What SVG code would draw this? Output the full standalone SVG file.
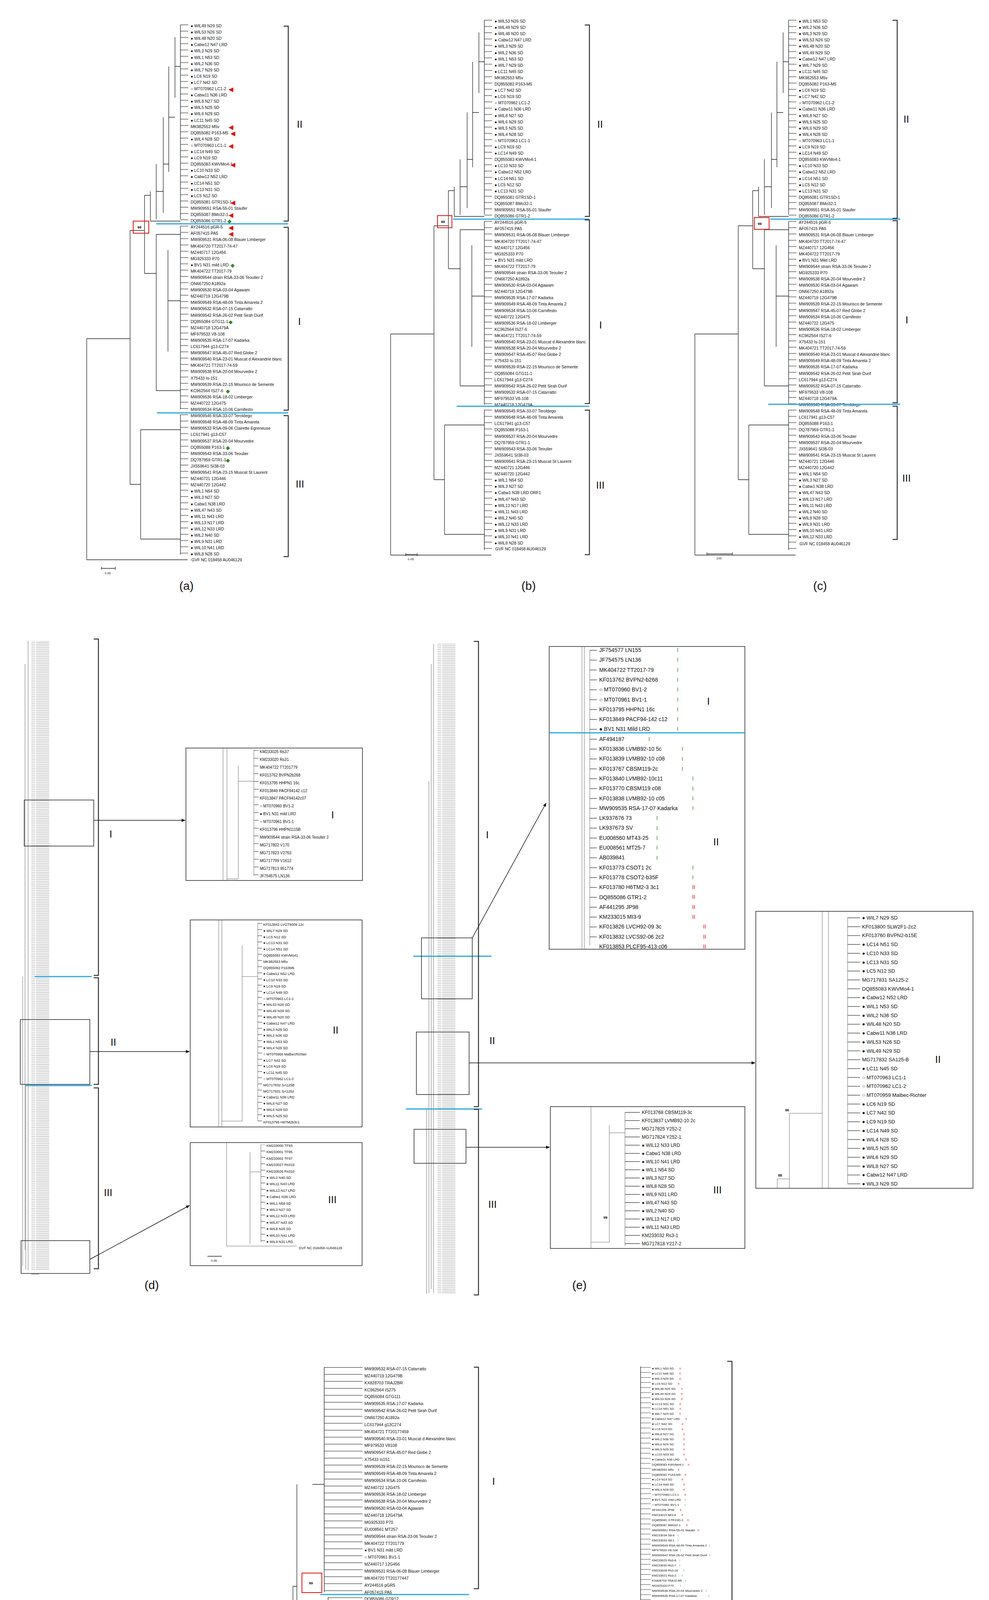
<svg xmlns="http://www.w3.org/2000/svg" xmlns:xlink="http://www.w3.org/1999/xlink" width="2532" height="5239" viewBox="0 0 2532 5239">
<style>
text{font-family:"Liberation Sans",Arial,sans-serif;fill:#111}
.l{font-size:10.5px}
.lg{font-size:8px}
.li{font-size:10px}
.ls{font-size:9px}
.le{font-size:14px}
.lr{font-size:13px}
.lt{font-size:12px}
.rn{font-size:26px}
.pl{font-size:30px}
.sb{font-size:8px}
.bs{font-size:9px;font-weight:bold}
.tr{fill:none;stroke:#222;stroke-width:1.3}
.trt{fill:none;stroke:#444;stroke-width:0.8}
.br{fill:none;stroke:#333;stroke-width:2.5}
.bl{stroke:#29a8e0;stroke-width:3}
.rb{fill:none;stroke:#e01010;stroke-width:2}
.bx{fill:none;stroke:#222;stroke-width:1.5}
.ar{stroke:#111;stroke-width:1.5;marker-end:url(#ah)}
.red{fill:#e01010}
.grn{fill:#3a8a2a}
.blu{fill:#3b8ee0}
</style>
<defs>
<marker id="ah" markerWidth="10" markerHeight="8" refX="9" refY="4" orient="auto" markerUnits="userSpaceOnUse"><path d="M0,0L10,4L0,8z" fill="#111"/></marker>
<pattern id="stA" patternUnits="userSpaceOnUse" width="2000" height="16.1" y="63"><rect width="2000" height="1.1" fill="#222"/></pattern>
<pattern id="stF" patternUnits="userSpaceOnUse" width="2000" height="17.86" y="3500"><rect width="2000" height="1.1" fill="#222"/></pattern>
<pattern id="stG" patternUnits="userSpaceOnUse" width="2000" height="12.93" y="3500"><rect width="2000" height="0.9" fill="#333"/></pattern>
<pattern id="stD1" patternUnits="userSpaceOnUse" width="2000" height="19.9" y="1920.5"><rect width="2000" height="1" fill="#222"/></pattern>
<pattern id="stD2" patternUnits="userSpaceOnUse" width="2000" height="15.8" y="2363.5"><rect width="2000" height="1" fill="#222"/></pattern>
<pattern id="stD3" patternUnits="userSpaceOnUse" width="2000" height="16.4" y="2929.5"><rect width="2000" height="1" fill="#222"/></pattern>
<pattern id="stE1" patternUnits="userSpaceOnUse" width="2000" height="25.3" y="1664"><rect width="2000" height="1.2" fill="#222"/></pattern>
<pattern id="stE2" patternUnits="userSpaceOnUse" width="2000" height="22.7" y="2349"><rect width="2000" height="1.2" fill="#222"/></pattern>
<pattern id="stE3" patternUnits="userSpaceOnUse" width="2000" height="21" y="2847"><rect width="2000" height="1.2" fill="#222"/></pattern>
<pattern id="tiny" patternUnits="userSpaceOnUse" width="80" height="4.6"><rect x="0" y="1.8" width="10" height="0.6" fill="#555"/><rect x="12" y="1" width="34" height="2" fill="#c4c4c4"/></pattern>
<g id="treeA">
<rect x="462" y="60" width="20" height="1362" fill="url(#stA)"/>
<path class="tr" d="M462,63V561 M462,579V1048 M462,1061V1420 M448,95V250 M448,170H462 M432,170V440 M432,300H448 M418,300V545 M418,420H432 M400,420V562 M400,490H418 M385,490V566 M385,566H462 M370,500V700 M370,500H385 M370,700H400 M400,600V1000 M400,600H462 M400,1000H462 M430,640V900 M430,770H462 M333,590V1240 M333,590H370 M333,1240H360 M360,1100V1380 M360,1100H462 M360,1380H462 M222,867V1433 M222,867H333 M222,1433H480"/>
</g>
</defs>

<!-- ================= PANEL A ================= -->
<g id="panel-a">
<use xlink:href="#treeA"/>
<text class="l" x="488" y="70"><tspan x="488">● WIL49 N29 SD</tspan><tspan x="488" dy="16.1">● WIL53 N26 SD</tspan><tspan x="488" dy="16.1">● WIL48 N20 SD</tspan><tspan x="488" dy="16.1">● Cabw12 N47 LRD</tspan><tspan x="488" dy="16.1">● WIL3 N29 SD</tspan><tspan x="488" dy="16.1">● WIL1 N53 SD</tspan><tspan x="488" dy="16.1">● WIL2 N36 SD</tspan><tspan x="488" dy="16.1">● WIL7 N29 SD</tspan><tspan x="488" dy="16.1">● LC6 N19 SD</tspan><tspan x="488" dy="16.1">● LC7 N42 SD</tspan><tspan x="488" dy="16.1">○ MT070962 LC1-2</tspan><tspan x="488" dy="16.1">● Cabw11 N36 LRD</tspan><tspan x="488" dy="16.1">● WIL8 N27 SD</tspan><tspan x="488" dy="16.1">● WIL5 N25 SD</tspan><tspan x="488" dy="16.1">● WIL6 N29 SD</tspan><tspan x="488" dy="16.1">● LC11 N45 SD</tspan><tspan x="488" dy="16.1">MK982553 M5v</tspan><tspan x="488" dy="16.1">DQ855082 P163-M5</tspan><tspan x="488" dy="16.1">● WIL4 N28 SD</tspan><tspan x="488" dy="16.1">○ MT070963 LC1-1</tspan><tspan x="488" dy="16.1">● LC14 N49 SD</tspan><tspan x="488" dy="16.1">● LC9 N19 SD</tspan><tspan x="488" dy="16.1">DQ855083 KWVMo4-1</tspan><tspan x="488" dy="16.1">● LC10 N33 SD</tspan><tspan x="488" dy="16.1">● Cabw12 N52 LRD</tspan><tspan x="488" dy="16.1">● LC14 N51 SD</tspan><tspan x="488" dy="16.1">● LC13 N31 SD</tspan><tspan x="488" dy="16.1">● LC5 N12 SD</tspan><tspan x="488" dy="16.1">DQ855081 GTR1SD-1</tspan><tspan x="488" dy="16.1">MW909551 RSA-55-01 Staufer</tspan><tspan x="488" dy="16.1">DQ855087 BMo32-1</tspan><tspan x="488" dy="16.1">DQ855086 GTR1-2</tspan><tspan x="488" dy="16.1">AY244516 pGR-5</tspan><tspan x="488" dy="16.1">AF057415 PA5</tspan><tspan x="488" dy="16.1">MW909531 RSA-06-08 Blauer Limberger</tspan><tspan x="488" dy="16.1">MK404720 TT2017-74-47</tspan><tspan x="488" dy="16.1">MZ440717 12G456</tspan><tspan x="488" dy="16.1">MG925333 P70</tspan><tspan x="488" dy="16.1">● BV1 N31 mild LRD</tspan><tspan x="488" dy="16.1">MK404722 TT2017-79</tspan><tspan x="488" dy="16.1">MW909544 strain RSA-33-06 Teoulier 2</tspan><tspan x="488" dy="16.1">ON667250 A1892a</tspan><tspan x="488" dy="16.1">MW909530 RSA-03-04 Agawam</tspan><tspan x="488" dy="16.1">MZ440719 12G479B</tspan><tspan x="488" dy="16.1">MW909549 RSA-48-09 Tinta Amarela 2</tspan><tspan x="488" dy="16.1">MW909532 RSA-07-15 Catarratto</tspan><tspan x="488" dy="16.1">MW909542 RSA-26-02 Petit Sirah Durif</tspan><tspan x="488" dy="16.1">DQ855084 GTG11-1</tspan><tspan x="488" dy="16.1">MZ440718 12G479A</tspan><tspan x="488" dy="16.1">MF979533 V8-108</tspan><tspan x="488" dy="16.1">MW909535 RSA-17-07 Kadarka</tspan><tspan x="488" dy="16.1">LC617944 g13-C274</tspan><tspan x="488" dy="16.1">MW909547 RSA-45-07 Red Globe 2</tspan><tspan x="488" dy="16.1">MW909540 RSA-23-01 Muscat d Alexandrie blanc</tspan><tspan x="488" dy="16.1">MK404721 TT2017-74-59</tspan><tspan x="488" dy="16.1">MW909538 RSA-20-04 Mourvedre 2</tspan><tspan x="488" dy="16.1">X75433 Is-151</tspan><tspan x="488" dy="16.1">MW909539 RSA-22-15 Mourisco de Semente</tspan><tspan x="488" dy="16.1">KC962564 IS27-6</tspan><tspan x="488" dy="16.1">MW909536 RSA-18-02 Limberger</tspan><tspan x="488" dy="16.1">MZ440722 12G475</tspan><tspan x="488" dy="16.1">MW909534 RSA-10-06 Carnifesto</tspan><tspan x="488" dy="16.1">MW909545 RSA-33-07 Teroldego</tspan><tspan x="488" dy="16.1">MW909548 RSA-48-09 Tinta Amarela</tspan><tspan x="488" dy="16.1">MW909533 RSA-09-06 Clairette Egreneuse</tspan><tspan x="488" dy="16.1">LC617941 g13-C57</tspan><tspan x="488" dy="16.1">MW909537 RSA-20-04 Mourvedre</tspan><tspan x="488" dy="16.1">DQ855088 P163-1</tspan><tspan x="488" dy="16.1">MW909543 RSA-33-06 Teoulier</tspan><tspan x="488" dy="16.1">DQ787959 GTR1-1</tspan><tspan x="488" dy="16.1">JX559641 SI38-03</tspan><tspan x="488" dy="16.1">MW909541 RSA-23-15 Muscat St Laurent</tspan><tspan x="488" dy="16.1">MZ440721 12G446</tspan><tspan x="488" dy="16.1">MZ440720 12G442</tspan><tspan x="488" dy="16.1">● WIL1 N54 SD</tspan><tspan x="488" dy="16.1">● WIL3 N27 SD</tspan><tspan x="488" dy="16.1">● Cabw1 N38 LRD</tspan><tspan x="488" dy="16.1">● WIL47 N43 SD</tspan><tspan x="488" dy="16.1">● WIL11 N43 LRD</tspan><tspan x="488" dy="16.1">● WIL13 N17 LRD</tspan><tspan x="488" dy="16.1">● WIL12 N33 LRD</tspan><tspan x="488" dy="16.1">● WIL2 N40 SD</tspan><tspan x="488" dy="16.1">● WIL9 N31 LRD</tspan><tspan x="488" dy="16.1">● WIL10 N41 LRD</tspan><tspan x="488" dy="16.1">● WIL8 N28 SD</tspan></text>
<text class="l" x="490" y="1437">GVF NC 018458 AU046129</text>
<text x="585" font-size="16" class="red"><tspan x="585" y="234">◀</tspan><tspan x="585" y="331">◀</tspan><tspan x="590" y="347">◀</tspan><tspan x="585" y="379">◀</tspan><tspan x="590" y="427">◀</tspan><tspan x="590" y="524">◀</tspan><tspan x="585" y="556">◀</tspan><tspan x="585" y="588">◀</tspan><tspan x="585" y="604">◀</tspan></text>
<text x="585" font-size="14" class="grn"><tspan x="582" y="571">◆</tspan><tspan x="590" y="684">◆</tspan><tspan x="585" y="829">◆</tspan><tspan x="578" y="1006">◆</tspan><tspan x="578" y="1151">◆</tspan><tspan x="578" y="1183">◆</tspan></text>
<rect class="rb" x="341" y="566" width="40" height="31"/>
<text class="bs" x="352" y="585">99</text>
<line class="bl" x1="400" y1="573" x2="738" y2="573"/>
<line class="bl" x1="402" y1="1057" x2="738" y2="1057"/>
<path class="br" d="M726,67H738V566H726 M726,582H738V1050H726 M726,1064H738V1425H726"/>
<text class="rn" x="760" y="327">II</text>
<text class="rn" x="763" y="832">I</text>
<text class="rn" x="757" y="1248">III</text>
<path class="tr" d="M260,1455H295 M260,1451V1459 M295,1451V1459"/>
<text class="sb" x="268" y="1470">0.05</text>
<text class="pl" x="459" y="1510">(a)</text>
</g>

<!-- ================= PANEL B ================= -->
<g id="panel-b">
<use xlink:href="#treeA" transform="translate(778,-12)"/>
<text class="l" x="1266" y="58"><tspan x="1266">● WIL53 N26 SD</tspan><tspan x="1266" dy="16.1">● WIL49 N29 SD</tspan><tspan x="1266" dy="16.1">● WIL48 N20 SD</tspan><tspan x="1266" dy="16.1">● Cabw12 N47 LRD</tspan><tspan x="1266" dy="16.1">● WIL3 N29 SD</tspan><tspan x="1266" dy="16.1">● WIL2 N36 SD</tspan><tspan x="1266" dy="16.1">● WIL1 N53 SD</tspan><tspan x="1266" dy="16.1">● WIL7 N29 SD</tspan><tspan x="1266" dy="16.1">● LC11 N45 SD</tspan><tspan x="1266" dy="16.1">MK982553 M5v</tspan><tspan x="1266" dy="16.1">DQ855082 P163-M5</tspan><tspan x="1266" dy="16.1">● LC7 N42 SD</tspan><tspan x="1266" dy="16.1">● LC6 N19 SD</tspan><tspan x="1266" dy="16.1">○ MT070962 LC1-2</tspan><tspan x="1266" dy="16.1">● Cabw11 N36 LRD</tspan><tspan x="1266" dy="16.1">● WIL8 N27 SD</tspan><tspan x="1266" dy="16.1">● WIL6 N29 SD</tspan><tspan x="1266" dy="16.1">● WIL5 N25 SD</tspan><tspan x="1266" dy="16.1">● WIL4 N28 SD</tspan><tspan x="1266" dy="16.1">○ MT070963 LC1-1</tspan><tspan x="1266" dy="16.1">● LC9 N19 SD</tspan><tspan x="1266" dy="16.1">● LC14 N49 SD</tspan><tspan x="1266" dy="16.1">DQ855083 KWVMo4-1</tspan><tspan x="1266" dy="16.1">● LC10 N33 SD</tspan><tspan x="1266" dy="16.1">● Cabw12 N52 LRD</tspan><tspan x="1266" dy="16.1">● LC14 N51 SD</tspan><tspan x="1266" dy="16.1">● LC5 N12 SD</tspan><tspan x="1266" dy="16.1">● LC13 N31 SD</tspan><tspan x="1266" dy="16.1">DQ855081 GTR1SD-1</tspan><tspan x="1266" dy="16.1">DQ855087 BMo32-1</tspan><tspan x="1266" dy="16.1">MW909551 RSA-55-01 Staufer</tspan><tspan x="1266" dy="16.1">DQ855086 GTR1-2</tspan><tspan x="1266" dy="16.1">AY244516 pGR-5</tspan><tspan x="1266" dy="16.1">AF057415 PA5</tspan><tspan x="1266" dy="16.1">MW909531 RSA-06-08 Blauer Limberger</tspan><tspan x="1266" dy="16.1">MK404720 TT2017-74-47</tspan><tspan x="1266" dy="16.1">MZ440717 12G456</tspan><tspan x="1266" dy="16.1">MG925333 P70</tspan><tspan x="1266" dy="16.1">● BV1 N31 mild LRD</tspan><tspan x="1266" dy="16.1">MK404722 TT2017-79</tspan><tspan x="1266" dy="16.1">MW909544 strain RSA-33-06 Teoulier 2</tspan><tspan x="1266" dy="16.1">ON667250 A1892a</tspan><tspan x="1266" dy="16.1">MW909530 RSA-03-04 Agawam</tspan><tspan x="1266" dy="16.1">MZ440719 12G479B</tspan><tspan x="1266" dy="16.1">MW909535 RSA-17-07 Kadarka</tspan><tspan x="1266" dy="16.1">MW909549 RSA-48-09 Tinta Amarela 2</tspan><tspan x="1266" dy="16.1">MW909534 RSA-10-06 Carnifesto</tspan><tspan x="1266" dy="16.1">MZ440722 12G475</tspan><tspan x="1266" dy="16.1">MW909536 RSA-18-02 Limberger</tspan><tspan x="1266" dy="16.1">KC962564 IS27-6</tspan><tspan x="1266" dy="16.1">MK404721 TT2017-74-59</tspan><tspan x="1266" dy="16.1">MW909540 RSA-23-01 Muscat d Alexandrie blanc</tspan><tspan x="1266" dy="16.1">MW909538 RSA-20-04 Mourvedre 2</tspan><tspan x="1266" dy="16.1">MW909547 RSA-45-07 Red Globe 2</tspan><tspan x="1266" dy="16.1">X75433 Is-151</tspan><tspan x="1266" dy="16.1">MW909539 RSA-22-15 Mourisco de Semente</tspan><tspan x="1266" dy="16.1">DQ855084 GTG11-1</tspan><tspan x="1266" dy="16.1">LC617944 g13-C274</tspan><tspan x="1266" dy="16.1">MW909542 RSA-26-02 Petit Sirah Durif</tspan><tspan x="1266" dy="16.1">MW909532 RSA-07-15 Catarratto</tspan><tspan x="1266" dy="16.1">MF979533 V8-108</tspan><tspan x="1266" dy="16.1">MZ440718 12G479A</tspan><tspan x="1266" dy="16.1">MW909545 RSA-33-07 Teroldego</tspan><tspan x="1266" dy="16.1">MW909548 RSA-48-09 Tinta Amarela</tspan><tspan x="1266" dy="16.1">LC617941 g13-C57</tspan><tspan x="1266" dy="16.1">DQ855088 P163-1</tspan><tspan x="1266" dy="16.1">MW909537 RSA-20-04 Mourvedre</tspan><tspan x="1266" dy="16.1">DQ787959 GTR1-1</tspan><tspan x="1266" dy="16.1">MW909543 RSA-33-06 Teoulier</tspan><tspan x="1266" dy="16.1">JX559641 SI38-03</tspan><tspan x="1266" dy="16.1">MW909541 RSA-23-15 Muscat St Laurent</tspan><tspan x="1266" dy="16.1">MZ440721 12G446</tspan><tspan x="1266" dy="16.1">MZ440720 12G442</tspan><tspan x="1266" dy="16.1">● WIL1 N54 SD</tspan><tspan x="1266" dy="16.1">● WIL3 N27 SD</tspan><tspan x="1266" dy="16.1">● Cabw1 N38 LRD ORF1</tspan><tspan x="1266" dy="16.1">● WIL47 N43 SD</tspan><tspan x="1266" dy="16.1">● WIL13 N17 LRD</tspan><tspan x="1266" dy="16.1">● WIL11 N43 LRD</tspan><tspan x="1266" dy="16.1">● WIL2 N40 SD</tspan><tspan x="1266" dy="16.1">● WIL12 N33 LRD</tspan><tspan x="1266" dy="16.1">● WIL9 N31 LRD</tspan><tspan x="1266" dy="16.1">● WIL10 N41 LRD</tspan><tspan x="1266" dy="16.1">● WIL8 N28 SD</tspan></text>
<text class="l" x="1268" y="1409">GVF NC 018458 AU046129</text>
<rect class="rb" x="1120" y="552" width="37" height="31"/>
<text class="bs" x="1129" y="571">99</text>
<line class="bl" x1="1160" y1="561" x2="1509" y2="561"/>
<line class="bl" x1="1169" y1="1040" x2="1509" y2="1040"/>
<path class="br" d="M1497,64H1509V554H1497 M1497,563H1509V1033H1497 M1497,1050H1509V1420H1497"/>
<text class="rn" x="1529" y="327">II</text>
<text class="rn" x="1534" y="841">I</text>
<text class="rn" x="1526" y="1251">III</text>
<path class="tr" d="M1039,1420H1068 M1039,1416V1424 M1068,1416V1424"/>
<text class="sb" x="1044" y="1434">0.05</text>
<text class="pl" x="1335" y="1510">(b)</text>
</g>

<!-- ================= PANEL C ================= -->
<g id="panel-c">
<use xlink:href="#treeA" transform="translate(1557,-12)"/>
<text class="l" x="2045" y="58"><tspan x="2045">● WIL1 N53 SD</tspan><tspan x="2045" dy="16.1">● WIL2 N36 SD</tspan><tspan x="2045" dy="16.1">● WIL3 N29 SD</tspan><tspan x="2045" dy="16.1">● WIL53 N26 SD</tspan><tspan x="2045" dy="16.1">● WIL48 N20 SD</tspan><tspan x="2045" dy="16.1">● WIL49 N29 SD</tspan><tspan x="2045" dy="16.1">● Cabw12 N47 LRD</tspan><tspan x="2045" dy="16.1">● WIL7 N29 SD</tspan><tspan x="2045" dy="16.1">● LC11 N45 SD</tspan><tspan x="2045" dy="16.1">MK982553 M5v</tspan><tspan x="2045" dy="16.1">DQ855082 P163-M5</tspan><tspan x="2045" dy="16.1">● LC6 N19 SD</tspan><tspan x="2045" dy="16.1">● LC7 N42 SD</tspan><tspan x="2045" dy="16.1">○ MT070962 LC1-2</tspan><tspan x="2045" dy="16.1">● Cabw11 N36 LRD</tspan><tspan x="2045" dy="16.1">● WIL8 N27 SD</tspan><tspan x="2045" dy="16.1">● WIL5 N25 SD</tspan><tspan x="2045" dy="16.1">● WIL6 N29 SD</tspan><tspan x="2045" dy="16.1">● WIL4 N28 SD</tspan><tspan x="2045" dy="16.1">○ MT070963 LC1-1</tspan><tspan x="2045" dy="16.1">● LC9 N19 SD</tspan><tspan x="2045" dy="16.1">● LC14 N49 SD</tspan><tspan x="2045" dy="16.1">DQ855083 KWVMo4-1</tspan><tspan x="2045" dy="16.1">● LC10 N33 SD</tspan><tspan x="2045" dy="16.1">● Cabw12 N52 LRD</tspan><tspan x="2045" dy="16.1">● LC14 N51 SD</tspan><tspan x="2045" dy="16.1">● LC5 N12 SD</tspan><tspan x="2045" dy="16.1">● LC13 N31 SD</tspan><tspan x="2045" dy="16.1">DQ855081 GTR1SD-1</tspan><tspan x="2045" dy="16.1">DQ855087 BMo32-1</tspan><tspan x="2045" dy="16.1">MW909551 RSA-55-01 Staufer</tspan><tspan x="2045" dy="16.1">DQ855086 GTR1-2</tspan><tspan x="2045" dy="16.1">AY244516 pGR-5</tspan><tspan x="2045" dy="16.1">AF057415 PA5</tspan><tspan x="2045" dy="16.1">MW909531 RSA-06-08 Blauer Limberger</tspan><tspan x="2045" dy="16.1">MK404720 TT2017-74-47</tspan><tspan x="2045" dy="16.1">MZ440717 12G456</tspan><tspan x="2045" dy="16.1">MK404722 TT2017-79</tspan><tspan x="2045" dy="16.1">● BV1 N31 Mild LRD</tspan><tspan x="2045" dy="16.1">MW909544 strain RSA-33-06 Teoulier 2</tspan><tspan x="2045" dy="16.1">MG925333 P70</tspan><tspan x="2045" dy="16.1">MW909538 RSA-20-04 Mourvedre 2</tspan><tspan x="2045" dy="16.1">MW909530 RSA-03-04 Agawam</tspan><tspan x="2045" dy="16.1">ON667250 A1892a</tspan><tspan x="2045" dy="16.1">MZ440719 12G479B</tspan><tspan x="2045" dy="16.1">MW909539 RSA-22-15 Mourisco de Semente</tspan><tspan x="2045" dy="16.1">MW909547 RSA-45-07 Red Globe 2</tspan><tspan x="2045" dy="16.1">MW909534 RSA-10-06 Carnifesto</tspan><tspan x="2045" dy="16.1">MZ440722 12G475</tspan><tspan x="2045" dy="16.1">MW909536 RSA-18-02 Limberger</tspan><tspan x="2045" dy="16.1">KC962564 IS27-6</tspan><tspan x="2045" dy="16.1">X75433 Is-151</tspan><tspan x="2045" dy="16.1">MK404721 TT2017-74-59</tspan><tspan x="2045" dy="16.1">MW909540 RSA-23-01 Muscat d Alexandrie blanc</tspan><tspan x="2045" dy="16.1">MW909549 RSA-48-09 Tinta Amarela 2</tspan><tspan x="2045" dy="16.1">MW909535 RSA-17-07 Kadarka</tspan><tspan x="2045" dy="16.1">MW909542 RSA-26-02 Petit Sirah Durif</tspan><tspan x="2045" dy="16.1">LC617944 g13-C274</tspan><tspan x="2045" dy="16.1">MW909532 RSA-07-15 Catarratto</tspan><tspan x="2045" dy="16.1">MF979533 V8-108</tspan><tspan x="2045" dy="16.1">MZ440718 12G479A</tspan><tspan x="2045" dy="16.1">MW909545 RSA-33-07 Teroldego</tspan><tspan x="2045" dy="16.1">MW909548 RSA-48-09 Tinta Amarela</tspan><tspan x="2045" dy="16.1">LC617941 g13-C57</tspan><tspan x="2045" dy="16.1">DQ855088 P163-1</tspan><tspan x="2045" dy="16.1">DQ787959 GTR1-1</tspan><tspan x="2045" dy="16.1">MW909543 RSA-33-06 Teoulier</tspan><tspan x="2045" dy="16.1">MW909537 RSA-20-04 Mourvedre</tspan><tspan x="2045" dy="16.1">JX559641 SI38-03</tspan><tspan x="2045" dy="16.1">MW909541 RSA-23-15 Muscat St Laurent</tspan><tspan x="2045" dy="16.1">MZ440721 12G446</tspan><tspan x="2045" dy="16.1">MZ440720 12G442</tspan><tspan x="2045" dy="16.1">● WIL1 N54 SD</tspan><tspan x="2045" dy="16.1">● WIL3 N27 SD</tspan><tspan x="2045" dy="16.1">● Cabw1 N38 LRD</tspan><tspan x="2045" dy="16.1">● WIL47 N43 SD</tspan><tspan x="2045" dy="16.1">● WIL13 N17 LRD</tspan><tspan x="2045" dy="16.1">● WIL11 N43 LRD</tspan><tspan x="2045" dy="16.1">● WIL2 N40 SD</tspan><tspan x="2045" dy="16.1">● WIL8 N28 SD</tspan><tspan x="2045" dy="16.1">● WIL9 N31 LRD</tspan><tspan x="2045" dy="16.1">● WIL10 N41 LRD</tspan><tspan x="2045" dy="16.1">● WIL12 N33 LRD</tspan></text>
<text class="l" x="2047" y="1396">GVF NC 018458 AU046129</text>
<rect class="rb" x="1931" y="557" width="38" height="30"/>
<text class="bs" x="1940" y="576">99</text>
<line class="bl" x1="1972" y1="561" x2="2305" y2="561"/>
<line class="bl" x1="1967" y1="1035" x2="2305" y2="1035"/>
<path class="br" d="M2285,52H2297V559H2285 M2285,565H2297V1031H2285 M2285,1040H2297V1381H2285"/>
<text class="rn" x="2313" y="314">II</text>
<text class="rn" x="2318" y="828">I</text>
<text class="rn" x="2310" y="1233">III</text>
<path class="tr" d="M1810,1418H1875 M1810,1414V1422 M1875,1414V1422"/>
<text class="sb" x="1834" y="1432">100</text>
<text class="pl" x="2082" y="1510">(c)</text>
</g>

<!-- ================= PANEL D ================= -->
<g id="panel-d">
<rect x="72" y="1640" width="80" height="1612" fill="url(#tiny)"/>
<path class="trt" d="M72,1640V3252 M64,1700V3200 M58,2500V3240 M66,2780V3250 M80,3262H100"/>
<line class="bl" x1="89" y1="2500" x2="235" y2="2500"/>
<line class="bl" x1="65" y1="2779" x2="235" y2="2779"/>
<path class="br" d="M240,1636H252V2497H240 M240,2503H252V2776H240 M240,2785H252V3248H240"/>
<text class="rn" x="280" y="2144">I</text>
<text class="rn" x="283" y="2677">II</text>
<text class="rn" x="266" y="3062">III</text>
<rect class="bx" x="62" y="2048" width="178" height="118"/>
<rect class="bx" x="52" y="2610" width="178" height="166"/>
<rect class="bx" x="54" y="3176" width="176" height="84"/>
<line class="ar" x1="240" y1="2100" x2="474" y2="2100"/>
<line class="ar" x1="230" y1="2692" x2="485" y2="2692"/>
<line class="ar" x1="230" y1="3224" x2="485" y2="3086"/>
<!-- inset I -->
<rect class="bx" x="476" y="1915" width="452" height="339"/>
<path class="trt" d="M571,1915V2254 M581,1915V2254 M581,2250H610 M610,1960V2250 M610,2000H650 M650,1920V2242"/>
<rect x="650" y="1916" width="12" height="330" fill="url(#stD1)"/>
<text class="li" x="665" y="1928"><tspan x="665">KM233025 Rs37</tspan><tspan x="665" dy="19.9">KM233020 Rs31</tspan><tspan x="665" dy="19.9">MK404722 TT201779</tspan><tspan x="665" dy="19.9">KF013762 BVPN2b268</tspan><tspan x="665" dy="19.9">KF013795 HHPN1 16c</tspan><tspan x="665" dy="19.9">KF013849 PACF94142 c12</tspan><tspan x="665" dy="19.9">KF013847 PACF94142c07</tspan><tspan x="665" dy="19.9">○ MT070960 BV1-2</tspan><tspan x="665" dy="19.9">● BV1 N31 mild LRD</tspan><tspan x="665" dy="19.9">○ MT070961 BV1-1</tspan><tspan x="665" dy="19.9">KF013796 HHPN1115B</tspan><tspan x="665" dy="19.9">MW909544 strain RSA-33-06 Teoulier 2</tspan><tspan x="665" dy="19.9">MG717802 V170</tspan><tspan x="665" dy="19.9">MG717823 V2763</tspan><tspan x="665" dy="19.9">MG717799 V1612</tspan><tspan x="665" dy="19.9">MG717813 951774</tspan><tspan x="665" dy="19.9">JF754575 LN136</tspan></text>
<text class="rn" x="848" y="2095">I</text>
<!-- inset II -->
<rect class="bx" x="487" y="2355" width="440" height="530"/>
<path class="trt" d="M560,2355V2885 M568,2355V2885 M568,2870H620 M620,2420V2870 M620,2500H660 M660,2363V2870"/>
<rect x="660" y="2362" width="11" height="512" fill="url(#stD2)"/>
<text class="ls" x="674" y="2370"><tspan x="674">KF013842 LVGT9009 12c</tspan><tspan x="674" dy="15.8">● WIL7 N29 SD</tspan><tspan x="674" dy="15.8">● LC5 N12 SD</tspan><tspan x="674" dy="15.8">● LC13 N31 SD</tspan><tspan x="674" dy="15.8">● LC14 N51 SD</tspan><tspan x="674" dy="15.8">DQ855083 KWVMo41</tspan><tspan x="674" dy="15.8">MK982553 M5v</tspan><tspan x="674" dy="15.8">DQ855082 P163M5</tspan><tspan x="674" dy="15.8">● Cabw12 N52 LRD</tspan><tspan x="674" dy="15.8">● LC10 N33 SD</tspan><tspan x="674" dy="15.8">● LC9 N19 SD</tspan><tspan x="674" dy="15.8">● LC14 N49 SD</tspan><tspan x="674" dy="15.8">○ MT070963 LC1-1</tspan><tspan x="674" dy="15.8">● WIL53 N26 SD</tspan><tspan x="674" dy="15.8">● WIL49 N29 SD</tspan><tspan x="674" dy="15.8">● WIL48 N20 SD</tspan><tspan x="674" dy="15.8">● Cabw12 N47 LRD</tspan><tspan x="674" dy="15.8">● WIL3 N29 SD</tspan><tspan x="674" dy="15.8">● WIL2 N36 SD</tspan><tspan x="674" dy="15.8">● WIL1 N53 SD</tspan><tspan x="674" dy="15.8">● WIL4 N28 SD</tspan><tspan x="674" dy="15.8">○ MT070959 MalbecRichter</tspan><tspan x="674" dy="15.8">● LC7 N42 SD</tspan><tspan x="674" dy="15.8">● LC6 N19 SD</tspan><tspan x="674" dy="15.8">● LC11 N45 SD</tspan><tspan x="674" dy="15.8">○ MT070962 LC1-2</tspan><tspan x="674" dy="15.8">MG717832 SA125B</tspan><tspan x="674" dy="15.8">MG717831 SA1252</tspan><tspan x="674" dy="15.8">● Cabw11 N36 LRD</tspan><tspan x="674" dy="15.8">● WIL8 N27 SD</tspan><tspan x="674" dy="15.8">● WIL6 N29 SD</tspan><tspan x="674" dy="15.8">● WIL5 N25 SD</tspan><tspan x="674" dy="15.8">KF013795 H6TM2b3c1</tspan></text>
<text class="rn" x="852" y="2646">II</text>
<!-- inset III -->
<rect class="bx" x="487" y="2925" width="440" height="315"/>
<path class="trt" d="M580,2925V3190 M580,3190H760 M640,2950V3185 M640,3000H668 M668,2930V3180"/>
<rect x="668" y="2930" width="11" height="250" fill="url(#stD3)"/>
<text class="ls" x="682" y="2936"><tspan x="682">KM233000 TF93</tspan><tspan x="682" dy="16.4">KM233001 TF95</tspan><tspan x="682" dy="16.4">KM233002 TF97</tspan><tspan x="682" dy="16.4">KM233027 Rs315</tspan><tspan x="682" dy="16.4">KM233026 Rs310</tspan><tspan x="682" dy="16.4">● WIL2 N40 SD</tspan><tspan x="682" dy="16.4">● WIL11 N43 LRD</tspan><tspan x="682" dy="16.4">● WIL13 N17 LRD</tspan><tspan x="682" dy="16.4">● Cabw1 N38 LRD</tspan><tspan x="682" dy="16.4">● WIL1 N58 SD</tspan><tspan x="682" dy="16.4">● WIL3 N27 SD</tspan><tspan x="682" dy="16.4">● WIL12 N33 LRD</tspan><tspan x="682" dy="16.4">● WIL47 N43 SD</tspan><tspan x="682" dy="16.4">● WIL8 N28 SD</tspan><tspan x="682" dy="16.4">● WIL10 N41 LRD</tspan><tspan x="682" dy="16.4">● WIL9 N31 LRD</tspan></text>
<text class="ls" x="765" y="3198">GVF NC 018458 AU046129</text>
<text class="rn" x="840" y="3080">III</text>
<path class="tr" d="M531,3216H568"/>
<text class="sb" x="540" y="3230">0.05</text>
<text class="pl" x="370" y="3300">(d)</text>
</g>

<!-- ================= PANEL E ================= -->
<g id="panel-e">
<rect x="1110" y="1648" width="72" height="1665" fill="url(#tiny)"/>
<path class="trt" d="M1110,1648V3310 M1104,1700V3300 M1098,2000V3310 M1092,2840V3312"/>
<line class="bl" x1="1058" y1="2448" x2="1258" y2="2448"/>
<line class="bl" x1="1039" y1="2839" x2="1234" y2="2839"/>
<path class="br" d="M1213,1642H1225V2833H1213 M1213,2840H1225V3315H1213"/>
<text class="rn" x="1244" y="2146">I</text>
<text class="rn" x="1253" y="2673">II</text>
<text class="rn" x="1250" y="3092">III</text>
<rect class="bx" x="1079" y="2401" width="130" height="156"/>
<rect class="bx" x="1066" y="2642" width="135" height="160"/>
<rect class="bx" x="1060" y="2891" width="133" height="87"/>
<line class="ar" x1="1209" y1="2401" x2="1398" y2="2056"/>
<line class="ar" x1="1201" y1="2721" x2="1933" y2="2721"/>
<line class="ar" x1="1193" y1="2937" x2="1407" y2="2937"/>
<!-- inset I/II -->
<rect class="bx" x="1406" y="1655" width="501" height="775"/>
<path class="trt" d="M1490,1655V2430 M1496,1655V2430 M1510,1664V2420"/>
<rect x="1510" y="1663" width="18" height="760" fill="url(#stE1)"/>
<line class="bl" x1="1406" y1="1876" x2="1907" y2="1876"/>
<text class="le" x="1534" y="1669"><tspan x="1534">JF754577 LN155</tspan><tspan x="1534" dy="25.3">JF754575 LN136</tspan><tspan x="1534" dy="25.3">MK404722 TT2017-79</tspan><tspan x="1534" dy="25.3">KF013762 BVPN2-b268</tspan><tspan x="1534" dy="25.3">○ MT070960 BV1-2</tspan><tspan x="1534" dy="25.3">○ MT070961 BV1-1</tspan><tspan x="1534" dy="25.3">KF013795 HHPN1 16c</tspan><tspan x="1534" dy="25.3">KF013849 PACF94-142 c12</tspan><tspan x="1534" dy="25.3">● BV1 N31 Mild LRD</tspan><tspan x="1534" dy="25.3">AF494187</tspan><tspan x="1534" dy="25.3">KF013836 LVMB92-10 5c</tspan><tspan x="1534" dy="25.3">KF013839 LVMB92-10 c08</tspan><tspan x="1534" dy="25.3">KF013767 CBSM119-2c</tspan><tspan x="1534" dy="25.3">KF013840 LVMB92-10c11</tspan><tspan x="1534" dy="25.3">KF013770 CBSM119 c08</tspan><tspan x="1534" dy="25.3">KF013838 LVMB92-10 c05</tspan><tspan x="1534" dy="25.3">MW909535 RSA-17-07 Kadarka</tspan><tspan x="1534" dy="25.3">LK937676 73</tspan><tspan x="1534" dy="25.3">LK937673 SV</tspan><tspan x="1534" dy="25.3">EU008560 MT43-25</tspan><tspan x="1534" dy="25.3">EU008561 MT25-7</tspan><tspan x="1534" dy="25.3">AB039841</tspan><tspan x="1534" dy="25.3">KF013773 CSOT1 2c</tspan><tspan x="1534" dy="25.3">KF013778 CSOT2-b35F</tspan><tspan x="1534" dy="25.3">KF013780 H6TM2-3 3c1</tspan><tspan x="1534" dy="25.3">DQ855086 GTR1-2</tspan><tspan x="1534" dy="25.3">AF441295 JP98</tspan><tspan x="1534" dy="25.3">KM233015 MI3-9</tspan><tspan x="1534" dy="25.3">KF013826 LVCH92-09 3c</tspan><tspan x="1534" dy="25.3">KF013832 LVCS92-06 2c2</tspan><tspan x="1534" dy="25.3">KF013853 PLCF95-413 c06</tspan></text>
<text class="le grn" x="1733" y="1669"><tspan x="1733">I</tspan><tspan x="1733" dy="25.3">I</tspan><tspan x="1733" dy="25.3">I</tspan><tspan x="1733" dy="25.3">I</tspan><tspan x="1733" dy="25.3">I</tspan><tspan x="1733" dy="25.3">I</tspan><tspan x="1733" dy="25.3">I</tspan><tspan x="1733" dy="25.3">I</tspan><tspan x="1733" dy="25.3">I</tspan></text>
<text class="le grn" x="1772" y="1897"><tspan x="1660">I</tspan><tspan x="1745" dy="25.3">I</tspan><tspan x="1745" dy="25.3">I</tspan><tspan x="1745" dy="25.3">I</tspan><tspan x="1772" dy="25.3">I</tspan><tspan x="1772" dy="25.3">I</tspan><tspan x="1772" dy="25.3">I</tspan><tspan x="1772" dy="25.3">I</tspan><tspan x="1680" dy="25.3">I</tspan><tspan x="1680" dy="25.3">I</tspan><tspan x="1680" dy="25.3">I</tspan><tspan x="1680" dy="25.3">I</tspan><tspan x="1680" dy="25.3">I</tspan><tspan x="1772" dy="25.3">I</tspan><tspan x="1772" dy="25.3">I</tspan></text>
<text class="le red" x="1772" y="2276"><tspan x="1772">II</tspan><tspan x="1772" dy="25.3">II</tspan><tspan x="1772" dy="25.3">II</tspan><tspan x="1772" dy="25.3">II</tspan><tspan x="1800" dy="25.3">II</tspan><tspan x="1800" dy="25.3">II</tspan><tspan x="1800" dy="25.3">II</tspan></text>
<text class="rn" x="1810" y="1804">I</text>
<text class="rn" x="1826" y="2164">II</text>
<!-- inset II right -->
<rect class="bx" x="1935" y="2333" width="556" height="709"/>
<path class="trt" d="M2105,2333V3042 M2121,2333V3042 M2021,2850V3042 M2021,2850H2105 M1990,3018V3042 M1990,3018H2021 M2170,2349V3030"/>
<rect x="2170" y="2348" width="32" height="685" fill="url(#stE2)"/>
<text class="bs" x="2010" y="2845">96</text>
<text class="bs" x="1992" y="3012">88</text>
<text class="lr" x="2207" y="2354"><tspan x="2207">● WIL7 N29 SD</tspan><tspan x="2207" dy="22.7">KF013800 SLW2F1-2c2</tspan><tspan x="2207" dy="22.7">KF013760 BVPN2-b15E</tspan><tspan x="2207" dy="22.7">● LC14 N51 SD</tspan><tspan x="2207" dy="22.7">● LC10 N33 SD</tspan><tspan x="2207" dy="22.7">● LC13 N31 SD</tspan><tspan x="2207" dy="22.7">● LC5 N12 SD</tspan><tspan x="2207" dy="22.7">MG717831 SA125-2</tspan><tspan x="2207" dy="22.7">DQ855083 KWVMo4-1</tspan><tspan x="2207" dy="22.7">● Cabw12 N52 LRD</tspan><tspan x="2207" dy="22.7">● WIL1 N53 SD</tspan><tspan x="2207" dy="22.7">● WIL2 N36 SD</tspan><tspan x="2207" dy="22.7">● WIL48 N20 SD</tspan><tspan x="2207" dy="22.7">● Cabw11 N36 LRD</tspan><tspan x="2207" dy="22.7">● WIL53 N26 SD</tspan><tspan x="2207" dy="22.7">● WIL49 N29 SD</tspan><tspan x="2207" dy="22.7">MG717832 SA125-B</tspan><tspan x="2207" dy="22.7">● LC11 N45 SD</tspan><tspan x="2207" dy="22.7">○ MT070963 LC1-1</tspan><tspan x="2207" dy="22.7">○ MT070962 LC1-2</tspan><tspan x="2207" dy="22.7">○ MT070959 Malbec-Richter</tspan><tspan x="2207" dy="22.7">● LC6 N19 SD</tspan><tspan x="2207" dy="22.7">● LC7 N42 SD</tspan><tspan x="2207" dy="22.7">● LC9 N19 SD</tspan><tspan x="2207" dy="22.7">● LC14 N49 SD</tspan><tspan x="2207" dy="22.7">● WIL4 N28 SD</tspan><tspan x="2207" dy="22.7">● WIL5 N25 SD</tspan><tspan x="2207" dy="22.7">● WIL6 N29 SD</tspan><tspan x="2207" dy="22.7">● WIL8 N27 SD</tspan><tspan x="2207" dy="22.7">● Cabw12 N47 LRD</tspan><tspan x="2207" dy="22.7">● WIL3 N29 SD</tspan></text>
<text class="rn" x="2394" y="2721">II</text>
<!-- inset III -->
<rect class="bx" x="1409" y="2833" width="498" height="363"/>
<path class="trt" d="M1513,2833V3196 M1513,3180H1560 M1560,2880V3180 M1560,2900H1600 M1600,2848V3190"/>
<rect x="1600" y="2846" width="38" height="342" fill="url(#stE3)"/>
<text class="bs" x="1545" y="3120">99</text>
<text class="lt" x="1643" y="2852"><tspan x="1643">KF013768 CBSM119-3c</tspan><tspan x="1643" dy="21">KF013837 LVMB92-10 2c</tspan><tspan x="1643" dy="21">MG717825 Y252-2</tspan><tspan x="1643" dy="21">MG717824 Y252-1</tspan><tspan x="1643" dy="21">● WIL12 N33 LRD</tspan><tspan x="1643" dy="21">● Cabw1 N38 LRD</tspan><tspan x="1643" dy="21">● WIL10 N41 LRD</tspan><tspan x="1643" dy="21">● WIL1 N54 SD</tspan><tspan x="1643" dy="21">● WIL3 N27 SD</tspan><tspan x="1643" dy="21">● WIL8 N28 SD</tspan><tspan x="1643" dy="21">● WIL9 N31 LRD</tspan><tspan x="1643" dy="21">● WIL47 N43 SD</tspan><tspan x="1643" dy="21">● WIL2 N40 SD</tspan><tspan x="1643" dy="21">● WIL13 N17 LRD</tspan><tspan x="1643" dy="21">● WIL11 N43 LRD</tspan><tspan x="1643" dy="21">KM233032 Rs3-1</tspan><tspan x="1643" dy="21">MG717818 Y217-2</tspan></text>
<text class="rn" x="1826" y="3055">III</text>
<text class="pl" x="1465" y="3300">(e)</text>
</g>

<!-- ================= PANEL F ================= -->
<g id="panel-f">
<rect x="830" y="3500" width="98" height="580" fill="url(#stF)"/>
<rect x="840" y="4088" width="88" height="565" fill="url(#stF)"/>
<rect x="800" y="4660" width="128" height="385" fill="url(#stF)"/>
<path class="tr" d="M830,3500V4076 M840,4089V4647 M800,4661V5059 M800,3800H830 M760,3800V4370 M760,4370H840 M750,4061H760 M750,4061V4766 M750,4766H800 M657,4411V5078 M657,4411H750 M657,5078H960"/>
<text class="l" x="933" y="3508"><tspan x="933">MW909532 RSA-07-15 Catarratto</tspan><tspan x="933" dy="17.86">MZ440719 12G479B</tspan><tspan x="933" dy="17.86">KX828703 TRAJ2BR</tspan><tspan x="933" dy="17.86">KC962564 IS275</tspan><tspan x="933" dy="17.86">DQ855084 GTG111</tspan><tspan x="933" dy="17.86">MW909535 RSA-17-07 Kadarka</tspan><tspan x="933" dy="17.86">MW909542 RSA-26-02 Petit Sirah Durif</tspan><tspan x="933" dy="17.86">ON667250 A1892a</tspan><tspan x="933" dy="17.86">LC617944 g13C274</tspan><tspan x="933" dy="17.86">MK404721 TT20177459</tspan><tspan x="933" dy="17.86">MW909540 RSA-23-01 Muscat d Alexandrie blanc</tspan><tspan x="933" dy="17.86">MF979533 V8108</tspan><tspan x="933" dy="17.86">MW909547 RSA-45-07 Red Globe 2</tspan><tspan x="933" dy="17.86">X75433 Is151</tspan><tspan x="933" dy="17.86">MW909539 RSA-22-15 Mourisco de Semente</tspan><tspan x="933" dy="17.86">MW909549 RSA-48-09 Tinta Amarela 2</tspan><tspan x="933" dy="17.86">MW909534 RSA-10-06 Carnifesto</tspan><tspan x="933" dy="17.86">MZ440722 12G475</tspan><tspan x="933" dy="17.86">MW909536 RSA-18-02 Limberger</tspan><tspan x="933" dy="17.86">MW909538 RSA-20-04 Mourvedre 2</tspan><tspan x="933" dy="17.86">MW909530 RSA-03-04 Agawam</tspan><tspan x="933" dy="17.86">MZ440718 12G479A</tspan><tspan x="933" dy="17.86">MG925333 P70</tspan><tspan x="933" dy="17.86">EU008561 MT257</tspan><tspan x="933" dy="17.86">MW909544 strain RSA-33-06 Teoulier 2</tspan><tspan x="933" dy="17.86">MK404722 TT201779</tspan><tspan x="933" dy="17.86">● BV1 N31 mild LRD</tspan><tspan x="933" dy="17.86">○ MT070961 BV1-1</tspan><tspan x="933" dy="17.86">MZ440717 12G456</tspan><tspan x="933" dy="17.86">MW909531 RSA-06-08 Blauer Limberger</tspan><tspan x="933" dy="17.86">MK404720 TT20177447</tspan><tspan x="933" dy="17.86">AY244516 pGR5</tspan><tspan x="933" dy="17.86">AF057415 PA5</tspan><tspan x="933" dy="17.86">DQ855086 GTR12</tspan><tspan x="933" dy="17.86">DQ855087 BMo321</tspan><tspan x="933" dy="17.86">MW909551 RSA-55-01 Staufer</tspan><tspan x="933" dy="17.86">DQ855081 GTR1SD1</tspan><tspan x="933" dy="17.86">MK982553 M5v</tspan><tspan x="933" dy="17.86">DQ855082 P163M5</tspan><tspan x="933" dy="17.86">● LC5 N12 SD</tspan><tspan x="933" dy="17.86">● LC13 N31 SD</tspan><tspan x="933" dy="17.86">● LC14 N51 SD</tspan><tspan x="933" dy="17.86">● LC10 N33 SD</tspan><tspan x="933" dy="17.86">● Cabw12 N52 LRD</tspan><tspan x="933" dy="17.86">DQ855083 KWVMo41</tspan><tspan x="933" dy="17.86">● LC9 N19 SD</tspan><tspan x="933" dy="17.86">● LC14 N49 SD</tspan><tspan x="933" dy="17.86">○ MT070963 LC1-1</tspan><tspan x="933" dy="17.86">● WIL4 N28 SD</tspan><tspan x="933" dy="17.86">● WIL6 N29 SD</tspan><tspan x="933" dy="17.86">● WIL5 N25 SD</tspan><tspan x="933" dy="17.86">● Cabw11 N36 LRD</tspan><tspan x="933" dy="17.86">● WIL8 N27 SD</tspan><tspan x="933" dy="17.86">○ MT070962 LC1-2</tspan><tspan x="933" dy="17.86">● LC7 N42 SD</tspan><tspan x="933" dy="17.86">● LC6 N19 SD</tspan><tspan x="933" dy="17.86">● LC11 N45 SD</tspan><tspan x="933" dy="17.86">● WIL2 N36 SD</tspan><tspan x="933" dy="17.86">● WIL1 N53 SD</tspan><tspan x="933" dy="17.86">● WIL3 N29 SD</tspan><tspan x="933" dy="17.86">● WIL7 N29 SD</tspan><tspan x="933" dy="17.86">● Cabw12 N47 LRD</tspan><tspan x="933" dy="17.86">● WIL53 N26 SD</tspan><tspan x="933" dy="17.86">● WIL48 N20 SD</tspan><tspan x="933" dy="17.86">● WIL49 N29 SD</tspan><tspan x="933" dy="17.86">MW909545 RSA-33-07 Teroldego</tspan><tspan x="933" dy="17.86">MW909548 RSA-48-09 Tinta Amarela</tspan><tspan x="933" dy="17.86">MW909533 RSA-09-06 Clairette Egreneuse</tspan><tspan x="933" dy="17.86">LC617941 g13C57</tspan><tspan x="933" dy="17.86">DQ855088 P1631</tspan><tspan x="933" dy="17.86">MW909543 RSA-33-06 Teoulier</tspan><tspan x="933" dy="17.86">MW909537 RSA-20-04 Mourvedre</tspan><tspan x="933" dy="17.86">DQ787959 GTR11</tspan><tspan x="933" dy="17.86">MZ440721 12G446</tspan><tspan x="933" dy="17.86">MZ440720 12G442</tspan><tspan x="933" dy="17.86">JX559641 SI3803</tspan><tspan x="933" dy="17.86">MW909541 RSA-23-15 Muscat St Laurent</tspan><tspan x="933" dy="17.86">● Cabw1 N38 LRD</tspan><tspan x="933" dy="17.86">● WIL1 N54 SD</tspan><tspan x="933" dy="17.86">● WIL3 N27 SD</tspan><tspan x="933" dy="17.86">● WIL12 N33 LRD</tspan><tspan x="933" dy="17.86">● WIL47 N43 SD</tspan><tspan x="933" dy="17.86">● WIL10 N41 LRD</tspan><tspan x="933" dy="17.86">● WIL8 N28 SD</tspan><tspan x="933" dy="17.86">● WIL9 N31 LRD</tspan><tspan x="933" dy="17.86">● WIL2 N40 SD</tspan><tspan x="933" dy="17.86">● WIL13 N17 LRD</tspan><tspan x="933" dy="17.86">● WIL11 N43 LRD</tspan></text>
<text class="l" x="966" y="5082">GVF NC 018458 AU046129</text>
<rect class="rb" x="773" y="4027" width="51" height="50"/>
<text class="bs" x="791" y="4056">99</text>
<line class="bl" x1="820" y1="4082" x2="1201" y2="4082"/>
<line class="bl" x1="800" y1="4653" x2="1193" y2="4653"/>
<path class="br" d="M1213,3500H1225V4067H1213 M1213,4098H1225V4638H1213 M1213,4658H1225V5060H1213"/>
<text class="rn" x="1260" y="3801">I</text>
<text class="rn" x="1257" y="4442">II</text>
<text class="rn" x="1252" y="4878">III</text>
<path class="tr" d="M698,5104H742 M698,5100V5108 M742,5100V5108"/>
<text class="sb" x="708" y="5120">0.05</text>
<text class="pl" x="905" y="5190">(f)</text>
</g>

<!-- ================= PANEL G ================= -->
<g id="panel-g">
<rect x="1640" y="3498" width="26" height="1160" fill="url(#stG)"/>
<rect x="1630" y="4662" width="36" height="424" fill="url(#stG)"/>
<path class="tr" d="M1640,3498V4654 M1630,4663V5082 M1615,4530V4713 M1615,4530H1640 M1615,4713H1630 M1482,4627V5094 M1482,4627H1615 M1482,5094H1690"/>
<text class="lg" x="1669" y="3506"><tspan x="1669">● WIL1 N53 SD</tspan><tspan class="red" dx="14">II</tspan><tspan x="1669" dy="12.93">● LC11 N45 SD</tspan><tspan class="red" dx="14">II</tspan><tspan x="1669" dy="12.93">● WIL3 N29 SD</tspan><tspan class="red" dx="14">II</tspan><tspan x="1669" dy="12.93">● LC5 N12 SD</tspan><tspan class="red" dx="14">II</tspan><tspan x="1669" dy="12.93">● WIL48 N20 SD</tspan><tspan class="red" dx="14">II</tspan><tspan x="1669" dy="12.93">● WIL49 N29 SD</tspan><tspan class="red" dx="14">II</tspan><tspan x="1669" dy="12.93">● WIL53 N26 SD</tspan><tspan class="red" dx="14">II</tspan><tspan x="1669" dy="12.93">● LC13 N31 SD</tspan><tspan class="red" dx="14">II</tspan><tspan x="1669" dy="12.93">● LC14 N51 SD</tspan><tspan class="red" dx="14">II</tspan><tspan x="1669" dy="12.93">● WIL7 N29 SD</tspan><tspan class="red" dx="14">II</tspan><tspan x="1669" dy="12.93">● Cabw12 N47 LRD</tspan><tspan class="red" dx="14">II</tspan><tspan x="1669" dy="12.93">● LC7 N42 SD</tspan><tspan class="red" dx="24">II</tspan><tspan x="1669" dy="12.93">● LC6 N19 SD</tspan><tspan class="red" dx="24">II</tspan><tspan x="1669" dy="12.93">● WIL8 N27 SD</tspan><tspan class="red" dx="24">II</tspan><tspan x="1669" dy="12.93">● WIL2 N36 SD</tspan><tspan class="red" dx="24">II</tspan><tspan x="1669" dy="12.93">● WIL6 N29 SD</tspan><tspan class="red" dx="24">II</tspan><tspan x="1669" dy="12.93">● WIL5 N25 SD</tspan><tspan class="red" dx="24">II</tspan><tspan x="1669" dy="12.93">● LC10 N33 SD</tspan><tspan class="red" dx="24">II</tspan><tspan x="1669" dy="12.93">● Cabw11 N36 LRD</tspan><tspan class="red" dx="14">II</tspan><tspan x="1669" dy="12.93">DQ855083 KWVMo4-1</tspan><tspan class="red" dx="10">II</tspan><tspan x="1669" dy="12.93">MK982553 M5v</tspan><tspan class="red" dx="10">II</tspan><tspan x="1669" dy="12.93">DQ855082 P163-M5</tspan><tspan class="red" dx="10">II</tspan><tspan x="1669" dy="12.93">● LC9 N19 SD</tspan><tspan class="red" dx="24">II</tspan><tspan x="1669" dy="12.93">● LC14 N49 SD</tspan><tspan class="red" dx="24">II</tspan><tspan x="1669" dy="12.93">● WIL4 N28 SD</tspan><tspan class="red" dx="24">II</tspan><tspan x="1669" dy="12.93">○ MT070963 LC1-1</tspan><tspan class="red" dx="14">II</tspan><tspan x="1669" dy="12.93">● BV1 N31 mild LRD</tspan><tspan class="grn" dx="10">I</tspan><tspan x="1669" dy="12.93">○ MT070961 BV1-1</tspan><tspan class="grn" dx="14">I</tspan><tspan x="1669" dy="12.93">AF441295 JP98</tspan><tspan class="red" dx="14">II</tspan><tspan x="1669" dy="12.93">KM233015 MI3-8</tspan><tspan class="red" dx="14">II</tspan><tspan x="1669" dy="12.93">DQ855081 GTR1SD-1</tspan><tspan class="red" dx="10">II</tspan><tspan x="1669" dy="12.93">DQ855087 BMo32-1</tspan><tspan class="red" dx="14">II</tspan><tspan x="1669" dy="12.93">MW909551 RSA-55-01 Staufer</tspan><tspan class="red" dx="6">II</tspan><tspan x="1669" dy="12.93">KM233034 S8-6</tspan><tspan class="grn" dx="8">I</tspan><tspan x="1669" dy="12.93">KM233033 S8-1</tspan><tspan class="grn" dx="8">I</tspan><tspan x="1669" dy="12.93">MW909549 RSA-48-09 Tinta Amarela 2</tspan><tspan class="grn" dx="6">I</tspan><tspan x="1669" dy="12.93">MF979533 V8-108</tspan><tspan class="grn" dx="6">I</tspan><tspan x="1669" dy="12.93">MW909542 RSA-26-02 Petit Sirah Durif</tspan><tspan class="grn" dx="6">I</tspan><tspan x="1669" dy="12.93">KM233029 Rs3-8</tspan><tspan class="grn" dx="8">I</tspan><tspan x="1669" dy="12.93">KM233030 Rs3-7</tspan><tspan class="grn" dx="8">I</tspan><tspan x="1669" dy="12.93">KM233028 Rs3-16</tspan><tspan class="grn" dx="14">I</tspan><tspan x="1669" dy="12.93">KM233021 Rs3-2</tspan><tspan class="grn" dx="14">I</tspan><tspan x="1669" dy="12.93">KX828703 TRAJ2-8R</tspan><tspan class="grn" dx="8">I</tspan><tspan x="1669" dy="12.93">MG925333 P70</tspan><tspan class="grn" dx="16">I</tspan><tspan x="1669" dy="12.93">MW909538 RSA-20-04 Mourvedre 2</tspan><tspan class="grn" dx="8">I</tspan><tspan x="1669" dy="12.93">MW909535 RSA-17-07 Kadarka</tspan><tspan class="grn" dx="30">I</tspan><tspan x="1669" dy="12.93">MW909540 RSA-23-01 Muscat d Alexandrie blanc</tspan><tspan class="grn" dx="6">I</tspan><tspan x="1669" dy="12.93">X75433 Is-151</tspan><tspan class="grn" dx="10">I</tspan><tspan x="1669" dy="12.93">AF594433 3</tspan><tspan class="grn" dx="10">I</tspan><tspan x="1669" dy="12.93">DQ855085 MSH18-1</tspan><tspan class="grn" dx="10">I</tspan><tspan x="1669" dy="12.93">MW909534 RSA-10-06 Carnifesto</tspan><tspan class="grn" dx="6">I</tspan><tspan x="1669" dy="12.93">KM233003 TM3-1</tspan><tspan class="grn" dx="50">I</tspan><tspan x="1669" dy="12.93">KM233001 Rs3-12</tspan><tspan class="grn" dx="50">I</tspan><tspan x="1669" dy="12.93">MW909536 RSA-18-02 Limberger</tspan><tspan class="grn" dx="8">I</tspan><tspan x="1669" dy="12.93">MZ440722 12G475</tspan><tspan class="grn" dx="10">I</tspan><tspan x="1669" dy="12.93">KC962564 IS27-6</tspan><tspan class="grn" dx="14">I</tspan><tspan x="1669" dy="12.93">KM233004 TM3-6</tspan><tspan class="grn" dx="14">I</tspan><tspan x="1669" dy="12.93">KM233007 MI3-1</tspan><tspan class="grn" dx="10">I</tspan><tspan x="1669" dy="12.93">KM233013 MI3-15</tspan><tspan class="grn" dx="10">I</tspan><tspan x="1669" dy="12.93">KM233010 MI3-10</tspan><tspan class="grn" dx="10">I</tspan><tspan x="1669" dy="12.93">KM233011 MI3-11</tspan><tspan class="grn" dx="10">I</tspan><tspan x="1669" dy="12.93">KM233008 MI3-4</tspan><tspan class="grn" dx="14">I</tspan><tspan x="1669" dy="12.93">KM233014 MI3-16A</tspan><tspan class="grn" dx="10">I</tspan><tspan x="1669" dy="12.93">MW909531 RSA-06-08 Blauer Limberger</tspan><tspan class="grn" dx="6">I</tspan><tspan x="1669" dy="12.93">MZ440717 12G456</tspan><tspan class="grn" dx="14">I</tspan><tspan x="1669" dy="12.93">AF057415 PA5</tspan><tspan class="grn" dx="30">I</tspan><tspan x="1669" dy="12.93">MZ440718 12G479A</tspan><tspan class="grn" dx="14">I</tspan><tspan x="1669" dy="12.93">DQ855084 GTG11-1</tspan><tspan class="grn" dx="14">I</tspan><tspan x="1669" dy="12.93">MW909544 strain RSA-33-06 Teoulier 2</tspan><tspan class="grn" dx="6">I</tspan><tspan x="1669" dy="12.93">AF594432 2</tspan><tspan class="grn" dx="8">I</tspan><tspan x="1669" dy="12.93">MZ440719 12G479B</tspan><tspan class="grn" dx="8">I</tspan><tspan x="1669" dy="12.93">KM232999 TT6-6</tspan><tspan class="grn" dx="10">I</tspan><tspan x="1669" dy="12.93">KM233006 TM3-8</tspan><tspan class="grn" dx="10">I</tspan><tspan x="1669" dy="12.93">MW909532 RSA-07-15 Catarratto</tspan><tspan class="grn" dx="6">I</tspan><tspan x="1669" dy="12.93">KM233012 MI3-12</tspan><tspan class="grn" dx="8">I</tspan><tspan x="1669" dy="12.93">MW909547 RSA-45-07 Red Globe 2</tspan><tspan class="grn" dx="6">I</tspan><tspan x="1669" dy="12.93">AF594434 4</tspan><tspan class="grn" dx="10">I</tspan><tspan x="1669" dy="12.93">AF594435 5</tspan><tspan class="grn" dx="10">I</tspan><tspan x="1669" dy="12.93">KM233009 MI3-5</tspan><tspan class="grn" dx="8">I</tspan><tspan x="1669" dy="12.93">MW909530 RSA-03-04 Agawam</tspan><tspan class="grn" dx="8">I</tspan><tspan x="1669" dy="12.93">LC617944 g13-C274</tspan><tspan class="grn" dx="8">I</tspan><tspan x="1669" dy="12.93">KM233024 Rs3-6</tspan><tspan class="grn" dx="14">I</tspan><tspan x="1669" dy="12.93">KM233025 Rs3-7</tspan><tspan class="grn" dx="14">I</tspan><tspan x="1669" dy="12.93">KM233023 Rs3-5</tspan><tspan class="grn" dx="14">I</tspan><tspan x="1669" dy="12.93">KM233022 Rs3-3</tspan><tspan class="grn" dx="14">I</tspan><tspan x="1669" dy="12.93">KM233020 Rs3-1</tspan><tspan class="grn" dx="14">I</tspan><tspan x="1669" dy="12.93">ON667250 A1892a</tspan><tspan class="grn" dx="14">I</tspan><tspan x="1669" dy="12.93">AF441294 SG-768</tspan><tspan class="grn" dx="14">I</tspan><tspan x="1669" dy="12.93">MW909539 RSA-22-15 Mourisco de Semente</tspan><tspan class="grn" dx="6">I</tspan><tspan x="1669" dy="12.93">KM233006 TM3-4</tspan><tspan class="blu" dx="14">III</tspan><tspan x="1669" dy="12.93">LC617941 g13-C57</tspan><tspan class="blu" dx="10">III</tspan><tspan x="1669" dy="12.93">MW909533 RSA-09-06 Clairette Egreneuse</tspan><tspan class="blu" dx="6">III</tspan><tspan x="1669" dy="12.93">MW909545 RSA-33-07 Teroldego</tspan><tspan class="blu" dx="6">III</tspan><tspan x="1669" dy="12.93">MW909548 RSA-48-09 Tinta Amarela</tspan><tspan class="blu" dx="6">III</tspan><tspan x="1669" dy="12.93">DQ787959 GTR1-1</tspan><tspan class="blu" dx="10">III</tspan><tspan x="1669" dy="12.93">MW909543 RSA-33-06 Teoulier</tspan><tspan class="blu" dx="6">III</tspan><tspan x="1669" dy="12.93">MW909537 RSA-20-04 Mourvedre</tspan><tspan class="blu" dx="6">III</tspan><tspan x="1669" dy="12.93">AF441296 P163-1</tspan><tspan class="blu" dx="14">III</tspan><tspan x="1669" dy="12.93">DQ855088 P163-1</tspan><tspan class="blu" dx="14">III</tspan><tspan x="1669" dy="12.93">KM233018 MI3-14</tspan><tspan class="blu" dx="14">III</tspan><tspan x="1669" dy="12.93">MW909541 RSA-23-15 Muscat St Laurent</tspan><tspan class="blu" dx="6">III</tspan><tspan x="1669" dy="12.93">KM233017 MI3-13</tspan><tspan class="blu" dx="20">III</tspan><tspan x="1669" dy="12.93">KM233032 Rs3-1</tspan><tspan class="blu" dx="24">III</tspan><tspan x="1669" dy="12.93">KM233019 MI3-3</tspan><tspan class="blu" dx="24">III</tspan><tspan x="1669" dy="12.93">KM233016 MI3-7</tspan><tspan class="blu" dx="24">III</tspan><tspan x="1669" dy="12.93">JX559641 SI38-03</tspan><tspan class="blu" dx="24">III</tspan><tspan x="1669" dy="12.93">● WIL12 N33 LRD</tspan><tspan class="blu" dx="24">III</tspan><tspan x="1669" dy="12.93">MZ440721 12G446</tspan><tspan class="blu" dx="24">III</tspan><tspan x="1669" dy="12.93">KM233000 TT6-3</tspan><tspan class="blu" dx="30">III</tspan><tspan x="1669" dy="12.93">KM233001 TT6-6</tspan><tspan class="blu" dx="30">III</tspan><tspan x="1669" dy="12.93">KM233002 TT6-7</tspan><tspan class="blu" dx="30">III</tspan><tspan x="1669" dy="12.93">KM233027 Rs3-15</tspan><tspan class="blu" dx="30">III</tspan><tspan x="1669" dy="12.93">KM233026 Rs3-10</tspan><tspan class="blu" dx="30">III</tspan><tspan x="1669" dy="12.93">MZ440720 12G442</tspan><tspan class="blu" dx="24">III</tspan><tspan x="1669" dy="12.93">● WIL1 N54 SD</tspan><tspan class="blu" dx="34">III</tspan><tspan x="1669" dy="12.93">● Cabw1 N38 LRD</tspan><tspan class="blu" dx="30">III</tspan><tspan x="1669" dy="12.93">● WIL10 N41 LRD</tspan><tspan class="blu" dx="30">III</tspan><tspan x="1669" dy="12.93">● WIL8 N28 SD</tspan><tspan class="blu" dx="36">III</tspan><tspan x="1669" dy="12.93">● WIL9 N31 LRD</tspan><tspan class="blu" dx="32">III</tspan><tspan x="1669" dy="12.93">● WIL13 N17 LRD</tspan><tspan class="blu" dx="30">III</tspan><tspan x="1669" dy="12.93">● WIL3 N27 SD</tspan><tspan class="blu" dx="36">III</tspan><tspan x="1669" dy="12.93">● WIL47 N43 SD</tspan><tspan class="blu" dx="32">III</tspan><tspan x="1669" dy="12.93">● WIL11 N43 LRD</tspan><tspan class="blu" dx="30">III</tspan></text>
<text class="lg" x="1692" y="5097">GVF NC 018458 AU046129</text>
<text x="1744" y="4662" font-size="18" font-weight="bold" class="red">*</text>
<text x="1744" y="4678" font-size="18" font-weight="bold" class="red">*</text>
<line class="bl" x1="1576" y1="4660" x2="1942" y2="4660"/>
<path class="br" d="M1862,3485H1874V4653H1862 M1862,4669H1874V5085H1862"/>
<text x="1897" y="4287" font-size="32">I&amp;II</text>
<text x="1912" y="4915" font-size="32">III</text>
<path class="tr" d="M1517,5114H1550"/>
<text class="sb" x="1522" y="5128">0.05</text>
<text class="pl" x="1872" y="5190">(g)</text>
</g>
</svg>
